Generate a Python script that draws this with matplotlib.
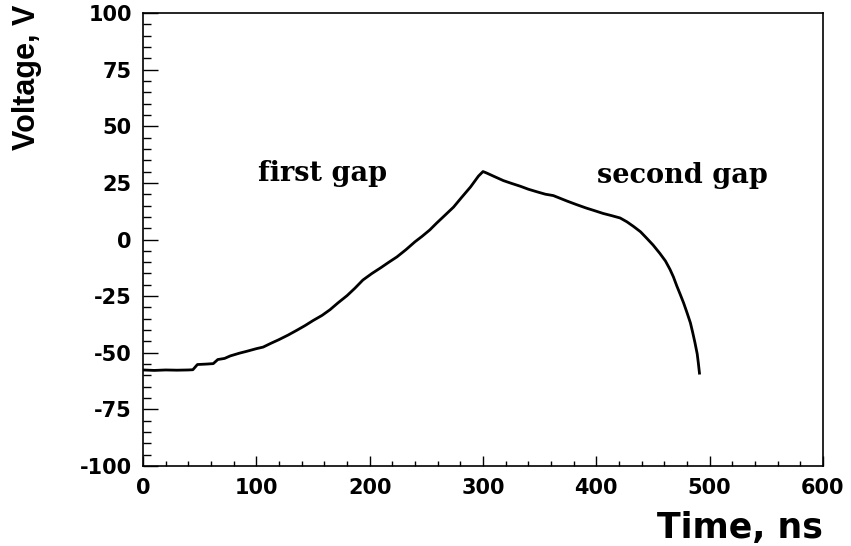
"""Voltage vs time across the two gaps."""

import matplotlib
matplotlib.use("Agg")
from matplotlib import pyplot as plt
from matplotlib.ticker import MultipleLocator

plt.rcParams["axes.unicode_minus"] = False

time_ns = [0, 10, 20, 30, 40, 44, 48, 56, 62, 66, 72, 77, 85, 92, 100, 106, 113, 120,
           128, 136, 143, 150, 158, 165, 172, 180, 187, 194, 202, 210, 217, 224, 232,
           240, 246, 253, 259, 266, 274, 281, 289, 296, 300, 303, 310, 318, 325, 333,
           340, 348, 355, 362, 368, 374, 382, 391, 398, 406, 413, 421, 427, 433, 439,
           444, 450, 456, 461, 465, 468, 471, 474, 477, 480, 483, 485, 487, 489, 490, 491]
voltage = [-57.6, -57.8, -57.6, -57.7, -57.6, -57.5, -55.2, -55.0, -54.8, -53.0, -52.5,
           -51.4, -50.2, -49.3, -48.2, -47.5, -45.8, -44.2, -42.2, -40.0, -38.0, -35.8,
           -33.5, -31.0, -28.0, -24.8, -21.5, -17.9, -15.0, -12.4, -10.0, -7.7, -4.5,
           -1.0, 1.3, 4.2, 7.2, 10.5, 14.3, 18.5, 23.2, 28.0, 30.0, 29.4, 27.8, 26.0,
           24.8, 23.5, 22.2, 21.0, 20.0, 19.4, 18.2, 17.0, 15.5, 13.9, 12.8, 11.5, 10.6,
           9.5, 7.8, 5.7, 3.4, 0.8, -2.4, -6.1, -9.5, -13.2, -16.5, -20.5, -24.2, -28.0,
           -32.3, -36.8, -41.0, -45.5, -50.5, -54.5, -59.0]

labels = ["first gap", "second gap"]
label_pos = [(158, 26), (476, 24.8)]

fig = plt.figure(figsize=(8.51, 5.46), dpi=100)
ax = fig.add_axes([143 / 851, 80 / 546, 680 / 851, 453 / 546])

ax.plot(time_ns, voltage, color="black", lw=2.0, solid_joinstyle="round")

for text, (x, y) in zip(labels, label_pos):
    ax.text(x, y, text, ha="center", va="baseline", fontsize=19.5,
            family="DejaVu Serif", weight="bold")

ax.set_xlim(0, 600)
ax.set_ylim(-100, 100)
ax.xaxis.set_major_locator(MultipleLocator(100))
ax.xaxis.set_minor_locator(MultipleLocator(20))
ax.yaxis.set_major_locator(MultipleLocator(25))
ax.yaxis.set_minor_locator(MultipleLocator(5))
ax.tick_params(axis="x", which="major", direction="in", length=7, width=1, pad=9)
ax.tick_params(axis="x", which="minor", direction="in", length=3.5, width=1)
ax.tick_params(axis="y", which="major", direction="in", length=11, width=1, pad=8)
ax.tick_params(axis="y", which="minor", direction="in", length=6, width=1)
for lab in ax.get_xticklabels() + ax.get_yticklabels():
    lab.set_family("DejaVu Sans")
    lab.set_weight("bold")
    lab.set_fontsize(15)
for sp in ax.spines.values():
    sp.set_linewidth(1.2)

fig.text(823 / 851, 8 / 546, "Time, ns", ha="right", va="baseline",
         fontsize=25, family="DejaVu Sans", weight="bold")
fig.text(27 / 851, 1 - 5 / 546, "Voltage, V", ha="center", va="top", rotation=90,
         fontsize=22, family=["Liberation Sans Narrow", "Liberation Sans"], weight="bold")

fig.savefig("out.png", dpi=100)
